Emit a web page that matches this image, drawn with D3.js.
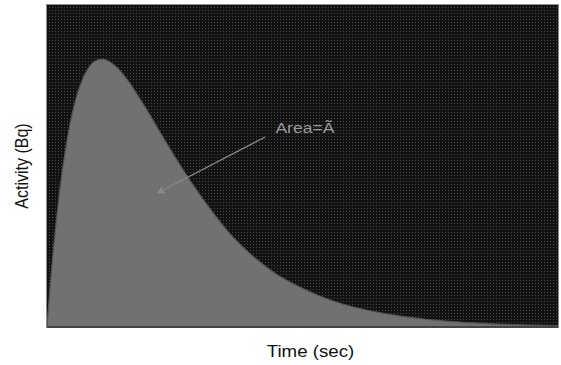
<!DOCTYPE html>
<html>
<head>
<meta charset="utf-8">
<script src="https://cdn.jsdelivr.net/npm/d3@7"></script>
<style>
  html, body { margin: 0; padding: 0; background: #fff; }
  svg { display: block; }
  text { font-family: "Liberation Sans", Arial, sans-serif; }
</style>
</head>
<body>
<svg id="chart" width="561" height="365"></svg>
<script>
// Time–activity curve (arbitrary units)
const timeSec  = [0, 0.5, 1, 2, 3, 4, 5, 6, 8, 10, 11, 12, 14, 16, 18, 20, 22, 25, 28, 32, 36, 40, 45, 50, 55, 60, 70, 80, 90, 100];
const activity = [0, 10.3, 19.6, 35.6, 48.5, 58.7, 66.7, 72.7, 80.2, 83.0, 83.2, 82.6, 80.1, 76.2, 71.3, 66.2, 60.8, 52.9, 45.5, 36.5, 28.6, 22.4, 16.3, 12.0, 8.6, 6.2, 3.2, 1.6, 0.8, 0.4];

// Annotation: arrow from label into the area under the curve
const arrowFrom = [42.7, 59.0];
const arrowTo   = [21.6, 41.6];
const labelAt   = [44.7, 60.2];
const labelText = "Area=\u00C3";

const xLabel = "Time (sec)";
const yLabel = "Activity (Bq)";

const svg = d3.select("#chart");
const margin = { left: 47, right: 3, top: 5, bottom: 38 };
const W = 561, H = 365;

const x = d3.scaleLinear().domain([0, 100]).range([margin.left, W - margin.right]);
const y = d3.scaleLinear().domain([0, 100]).range([H - margin.bottom, margin.top]);

// dotted dark texture of the plot background
const defs = svg.append("defs");
const pat = defs.append("pattern")
  .attr("id", "dots").attr("width", 3).attr("height", 3)
  .attr("patternUnits", "userSpaceOnUse");
pat.append("rect").attr("width", 3).attr("height", 3).attr("fill", "#121212");
pat.append("rect").attr("x", 1).attr("y", 1).attr("width", 1).attr("height", 1).attr("fill", "#484848");

defs.append("marker")
  .attr("id", "arrowhead")
  .attr("viewBox", "0 0 10 10")
  .attr("refX", 9).attr("refY", 5)
  .attr("markerWidth", 9).attr("markerHeight", 9)
  .attr("markerUnits", "userSpaceOnUse")
  .attr("orient", "auto")
  .append("path")
  .attr("d", "M0,0 L10,5 L0,10 L3,5 Z")
  .attr("fill", "#8a8a8a");

const [x0, x1] = x.range();
const [y0, y1] = y.range();

svg.append("rect")
  .attr("x", x0).attr("y", y1)
  .attr("width", x1 - x0).attr("height", y0 - y1)
  .attr("fill", "url(#dots)");

const pts = timeSec.map((t, i) => [t, activity[i]]);

const area = d3.area()
  .x(d => x(d[0]))
  .y0(y(0))
  .y1(d => y(d[1]))
  .curve(d3.curveMonotoneX);

const line = d3.line()
  .x(d => x(d[0]))
  .y(d => y(d[1]))
  .curve(d3.curveMonotoneX);

svg.append("path").datum(pts)
  .attr("d", area)
  .attr("fill", "#717171");

svg.append("path").datum(pts)
  .attr("d", line)
  .attr("fill", "none")
  .attr("stroke", "#555")
  .attr("stroke-width", 1.2);

// frame
svg.append("rect")
  .attr("x", x0 - 0.5).attr("y", y1 - 0.5)
  .attr("width", x1 - x0 + 1).attr("height", y0 - y1 + 1)
  .attr("fill", "none")
  .attr("stroke", "#8c8c8c")
  .attr("stroke-width", 1);
svg.append("line")
  .attr("x1", x0).attr("x2", x1)
  .attr("y1", y0).attr("y2", y0)
  .attr("stroke", "#444").attr("stroke-width", 2);

// annotation
svg.append("line")
  .attr("x1", x(arrowFrom[0])).attr("y1", y(arrowFrom[1]))
  .attr("x2", x(arrowTo[0])).attr("y2", y(arrowTo[1]))
  .attr("stroke", "#8a8a8a")
  .attr("stroke-width", 1.3)
  .attr("marker-end", "url(#arrowhead)");

const sx = 1.17;
svg.append("text")
  .attr("transform", `translate(${x(labelAt[0])},${y(labelAt[1])}) scale(${sx},1)`)
  .attr("font-size", 15)
  .attr("fill", "#9a9a9a")
  .text(labelText);

svg.append("text")
  .attr("transform", `translate(${(x0 + x1) / 2 + 8},${357}) scale(${sx},1)`)
  .attr("text-anchor", "middle")
  .attr("font-size", 16)
  .attr("fill", "#111")
  .text(xLabel);

svg.append("text")
  .attr("transform", `translate(${28},${(y0 + y1) / 2}) scale(${sx},1) rotate(-90)`)
  .attr("text-anchor", "middle")
  .attr("font-size", 16)
  .attr("fill", "#111")
  .text(yLabel);
</script>
</body>
</html>
